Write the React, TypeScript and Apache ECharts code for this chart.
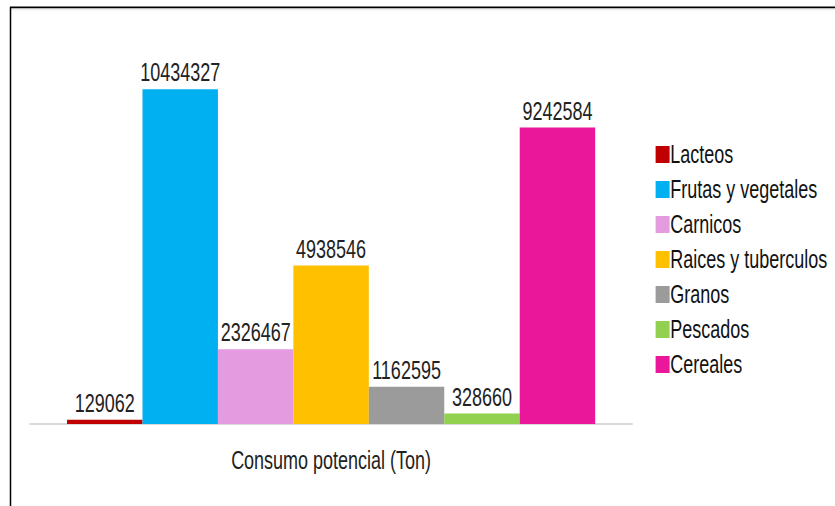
import React, { useEffect, useRef } from "react";
import * as echarts from "echarts";

// Consumo potencial por grupo de alimentos (toneladas)
const categories: string[] = ["Consumo potencial (Ton)"];
const groups: string[] = [
  "Lacteos",
  "Frutas y vegetales",
  "Carnicos",
  "Raices y tuberculos",
  "Granos",
  "Pescados",
  "Cereales",
];
const values: number[] = [129062, 10434327, 2326467, 4938546, 1162595, 328660, 9242584];
const colors: string[] = ["#C00000", "#00B0F0", "#E49BDF", "#FFC000", "#9B9B9B", "#92D050", "#EB179B"];

const FONT = "'Liberation Sans', Arial, Helvetica, sans-serif";

// The chart is laid out on a wider canvas and condensed horizontally,
// which gives the narrow lettering of the original figure.
const SX = 0.72;
const OUT_W = 835;
const OUT_H = 506;
const IN_W = OUT_W / SX;
const px = (x: number) => x / SX; // page x -> canvas x

export default function App() {
  const ref = useRef<HTMLDivElement>(null);

  useEffect(() => {
    if (!ref.current) return;
    const chart = echarts.init(ref.current, undefined, { renderer: "svg" });
    chart.setOption({
      animation: false,
      backgroundColor: "#ffffff",
      grid: { left: px(30), right: IN_W - px(632), top: 39, bottom: 82, containLabel: false },
      xAxis: {
        type: "category",
        data: categories,
        axisLine: { show: true, lineStyle: { color: "#d9d9d9", width: 2 } },
        axisTick: { show: false },
        axisLabel: {
          margin: 24,
          fontFamily: FONT,
          fontSize: 25,
          color: "#222222",
        },
      },
      yAxis: {
        type: "value",
        min: 0,
        max: 12000000,
        show: false,
        splitLine: { show: false },
      },
      legend: {
        orient: "vertical",
        left: px(652),
        top: 137,
        itemWidth: px(14),
        itemHeight: 17,
        itemGap: 10,
        icon: "rect",
        data: groups,
        textStyle: {
          fontFamily: FONT,
          fontSize: 25,
          color: "#111111",
          padding: [0, 0, 0, -4],
        },
      },
      series: groups.map((name, i) => ({
        name,
        type: "bar",
        data: [values[i]],
        barGap: "0%",
        barCategoryGap: "12.3%",
        itemStyle: { color: colors[i] },
        label: {
          show: true,
          position: "top",
          distance: 4,
          fontFamily: FONT,
          fontSize: 25,
          color: "#222222",
        },
      })),
      graphic: [
        {
          type: "line",
          shape: { x1: px(10), y1: 7.5, x2: IN_W, y2: 7.5 },
          style: { stroke: "#000000", lineWidth: 2 },
        },
        {
          type: "line",
          shape: { x1: px(11), y1: 9.5, x2: IN_W, y2: 9.5 },
          style: { stroke: "#eeeeee", lineWidth: 2 },
        },
        {
          type: "line",
          shape: { x1: px(10.5), y1: 7, x2: px(10.5), y2: OUT_H },
          style: { stroke: "#000000", lineWidth: px(1.5) },
        },
      ],
    });
    return () => chart.dispose();
  }, []);

  return (
    <div
      style={{
        position: "fixed",
        left: 0,
        top: 0,
        width: OUT_W,
        height: OUT_H,
        overflow: "hidden",
        background: "#ffffff",
      }}
    >
      <div
        ref={ref}
        style={{
          width: IN_W,
          height: OUT_H,
          transform: `scaleX(${SX})`,
          transformOrigin: "0 0",
        }}
      />
    </div>
  );
}
